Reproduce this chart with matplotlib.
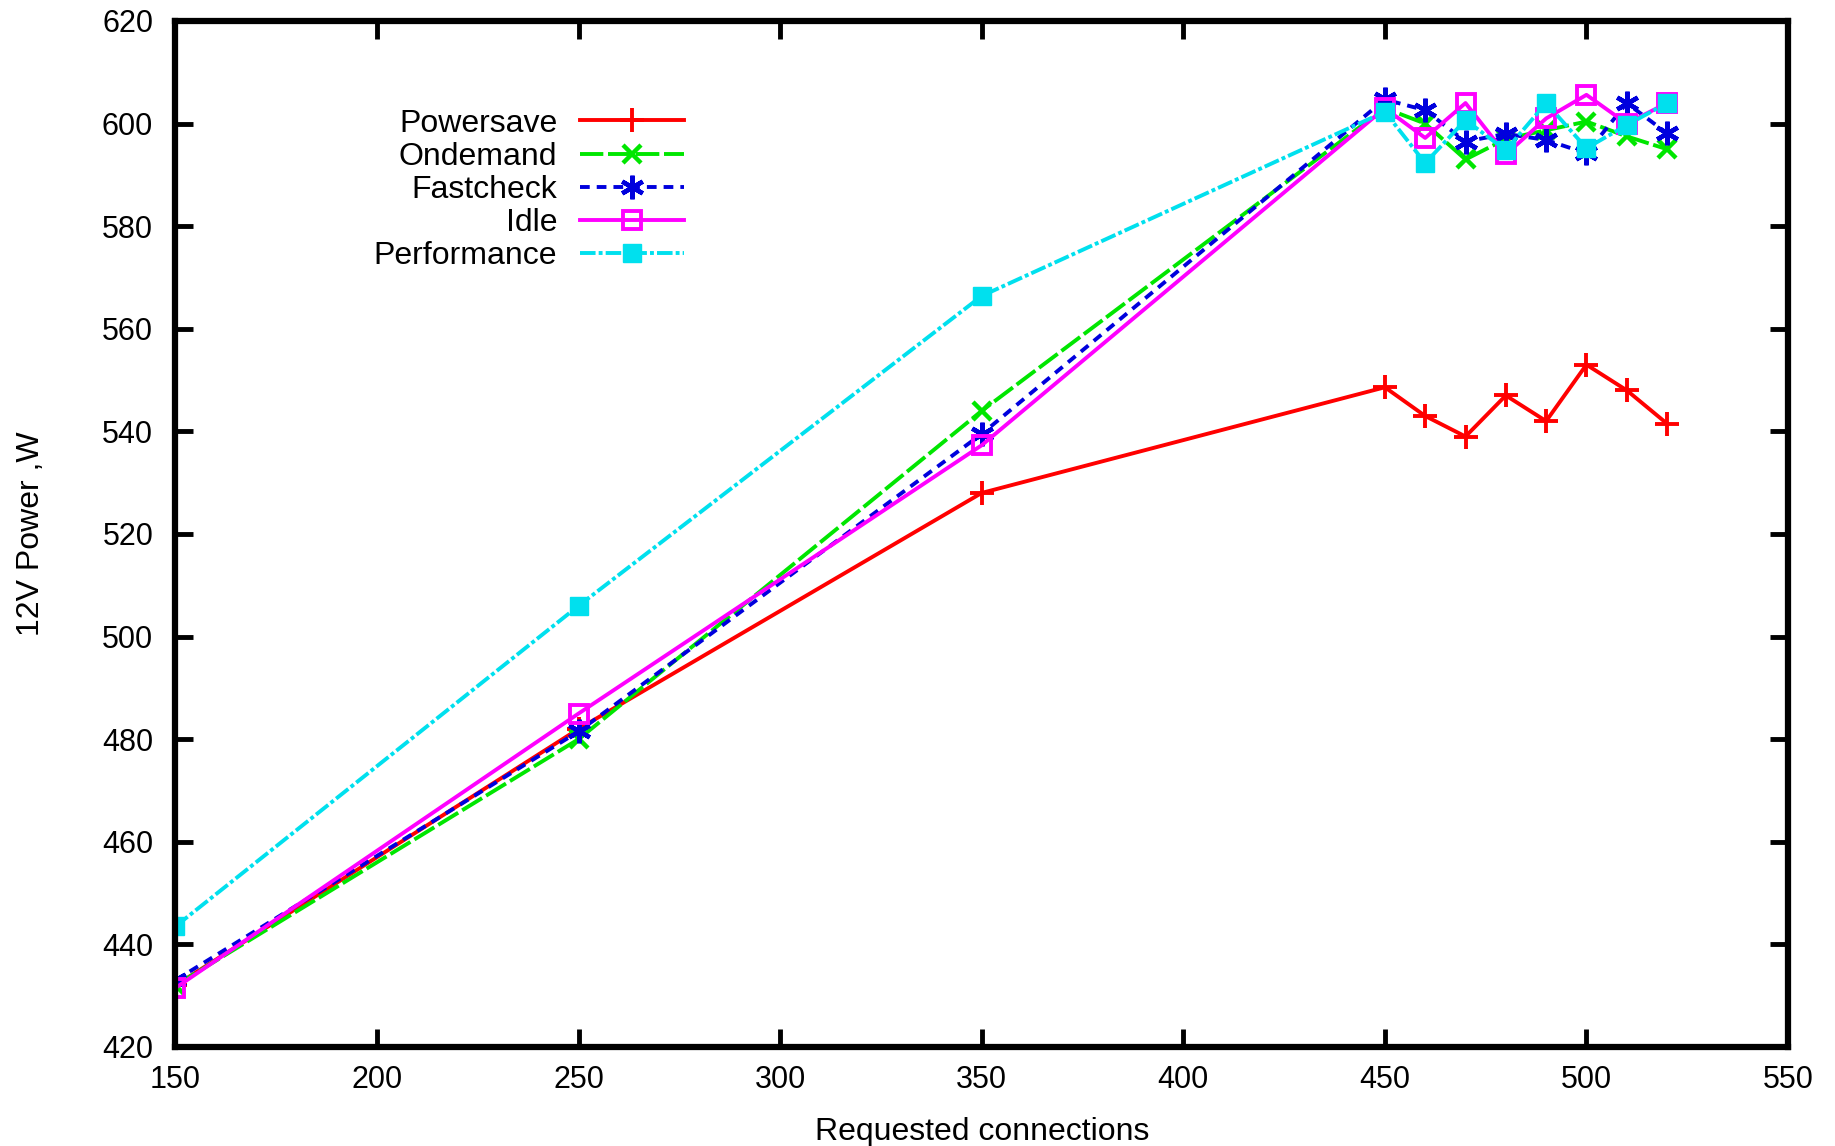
import matplotlib
matplotlib.use("Agg")
import matplotlib.pyplot as plt

plt.rcParams['font.family'] = ['Liberation Sans', 'DejaVu Sans']

connections = [150, 250, 350, 450, 460, 470, 480, 490, 500, 510, 520]
powersave   = [432, 482, 528, 548.6, 543, 539, 547, 542, 553, 548, 541.5]
ondemand    = [432, 480, 544, 603, 600, 593, 597, 598.7, 600.4, 597.5, 595]
fastcheck   = [433, 481.5, 539.5, 604.7, 602.6, 596.5, 598, 596.8, 594.2, 604, 598.1]
idle        = [431.5, 485, 537.3, 603, 597.2, 604, 594, 601, 605.6, 600, 604]
performance = [443.5, 506, 566.4, 602.3, 592.3, 600.7, 594.8, 604, 595.2, 599.7, 604]

labels = ["Powersave", "Ondemand", "Fastcheck", "Idle", "Performance"]
xticks = [150, 200, 250, 300, 350, 400, 450, 500, 550]
yticks = [420, 440, 460, 480, 500, 520, 540, 560, 580, 600, 620]

fig = plt.figure(figsize=(18.35, 11.46), dpi=100)
ax = fig.add_axes([0.0956, 0.0864, 0.8788, 0.8953])

ax.plot(connections, powersave, color='#ff0000', lw=2.8, ls='-',
        marker='+', ms=17, mew=2.8, label=labels[0])
ax.plot(connections, ondemand, color='#00e600', lw=2.8, ls=(0, (6, 1.2)),
        marker='x', ms=13, mew=3.2, label=labels[1])
ax.plot(connections, fastcheck, color='#0000dd', lw=2.8, ls=(0, (2.5, 1.8)),
        marker=(6, 2, 0), ms=17, mew=3.2, label=labels[2])
ax.plot(connections, idle, color='#ff00ff', lw=2.8, ls='-',
        marker='s', ms=13, mew=2.8, mfc='none', label=labels[3])
ax.plot(connections, performance, color='#00e0ee', lw=2.8, ls=(0, (4, 0.8, 1, 0.8)),
        marker='s', ms=13, mew=1, label=labels[4])

ax.set_xlim(150, 550)
ax.set_ylim(420, 620)
ax.set_xticks(xticks)
ax.set_yticks(yticks)
ax.tick_params(direction='in', length=13, width=3.5, labelsize=22,
               top=True, right=True)
ax.tick_params(axis='x', pad=13)
ax.tick_params(axis='y', pad=16)
for s in ax.spines.values():
    s.set_linewidth(4.5)

ax.set_xlabel("Requested connections", fontsize=23, labelpad=16)
ax.set_ylabel("12V Power ,W", fontsize=23, labelpad=40)

leg = ax.legend(loc='upper right', bbox_to_anchor=(0.323, 0.927), frameon=False,
                markerfirst=False, fontsize=23, handlelength=3.25,
                labelspacing=0.1, handletextpad=0.7, borderaxespad=0)

fig.savefig("out.png", dpi=100)
